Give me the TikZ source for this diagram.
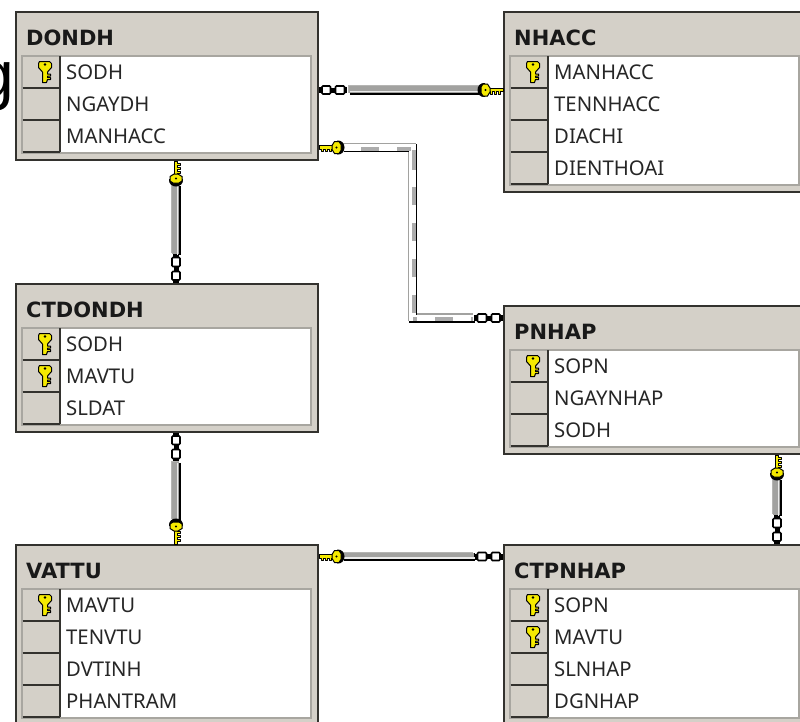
\documentclass[tikz,border=0pt]{standalone}
\usepackage{fontspec}
\setmainfont{Noto Sans}
\newfontfamily\bigfont{Liberation Sans}
\newfontfamily\titlefont{DejaVu Sans}
\usetikzlibrary{calc}
\definecolor{panel}{HTML}{D4D0C8}
\definecolor{edge}{HTML}{33322E}
\definecolor{keyyellow}{HTML}{F5EA00}
\definecolor{gridgray}{HTML}{A8A6A0}
\definecolor{bandgray}{HTML}{A2A2A0}
\tikzset{
  x=1pt,y=-1pt,
  tablebox/.style={draw=edge,line width=2pt,fill=panel,minimum width=302pt,inner sep=0pt,outer sep=0pt,anchor=north west},
  titletext/.style={anchor=west,inner sep=0pt,font=\titlefont\fontsize{21}{24}\selectfont\bfseries,text=black!90},
  rowtext/.style={anchor=west,inner sep=0pt,font=\fontsize{20.3}{24}\selectfont,text=black!85},
  keycell/.style={fill=panel},
  keyedge/.style={draw=edge,line width=1.6pt},
  dashmark/.style={draw=gray!65,line width=4pt},
  keyicon/.pic={
    \fill[black] (18,-7) .. controls (28,-8) and (28,8) .. (18,7) -- cycle;
    \draw[black,line width=.9pt,fill=keyyellow,line join=round]
      (0,-1.8) -- (14,-1.8) -- (14,1.8) -- (12.5,1.8) -- (12.5,4) -- (10.5,4) -- (10.5,1.8) -- (8.5,1.8)
      -- (8.5,4) -- (6.5,4) -- (6.5,1.8) -- (4.5,1.8) -- (4.5,4) -- (2.5,4) -- (2.5,1.8) -- (0,1.8) -- cycle;
    \draw[black,line width=1pt,fill=keyyellow] (15.5,-6) -- (20,-6) -- (22,-3) -- (22,3) -- (20,6) -- (15.5,6) -- (13,2) -- (13,-2) -- cycle;
    \fill[black] (17.5,0) circle (1.2);
  },
  rowkey/.pic={
    \draw[black,line width=1pt,fill=keyyellow,line join=round]
      (-5,0) -- (5,0) -- (7,2) -- (7,6) -- (3,10.5) -- (3,12.5) -- (6,12.5) -- (6,14.5) -- (3,14.5) -- (3,16) -- (6,16) -- (6,18) -- (3,18)
      -- (2,21) -- (-2,21) -- (-2,10.5) -- (-6,6) -- (-6,2) -- cycle;
    \fill[black] (.5,3) circle (1.3);
  },
  chainicon/.pic={
    \fill[black] (0,-3) rectangle (3,3);
    \draw[black,line width=1.6pt,fill=white,rounded corners=1pt] (3,-4) rectangle (11.5,4);
    \fill[black] (11.5,-2.5) rectangle (16.5,2.5);
    \draw[black,line width=1.6pt,fill=white,rounded corners=1pt] (16.5,-4) rectangle (25.5,4);
    \fill[black] (25.5,-3) rectangle (28,3);
  },
  fromeast/.style={},
  fromwest/.style={xscale=-1},
  fromsouth/.style={cm={0,-1,-1,0,(0,0)}},
  fromnorth/.style={rotate=90},
  shiftul/.style={transform canvas={xshift=-.9pt,yshift=.9pt}},
  shiftdr/.style={transform canvas={xshift=.9pt,yshift=-.9pt}},
  shiftcore/.style={transform canvas={xshift=-.4pt,yshift=.4pt}},
  shiftglint/.style={transform canvas={xshift=1.4pt,yshift=-1.4pt}}
}
% name, x, y, height, title, rows (k or n / text)
\newcommand{\erdtable}[6]{%
  \begin{scope}[shift={(#2,#3)}]
    \node[tablebox,minimum height=#4pt] (#1) at (0,0) {};
    \node[titletext] (#1-title) at (10,26) {#5};
    \foreach \kk/\tt [count=\ii] in {#6}{
      \xdef\nrows{\ii}
    }
    \pgfmathsetmacro{\gridbot}{44+32*\nrows+1}
    \fill[white] (6,44) rectangle (295,\gridbot);
    \draw[gridgray,line width=1.2pt] (6,44) rectangle (295,\gridbot);
    \foreach \kk/\tt [count=\ii] in {#6}{
      \pgfmathsetmacro{\ytop}{44+32*(\ii-1)}
      \pgfmathsetmacro{\ybot}{44+32*\ii}
      \pgfmathsetmacro{\ymid}{\ytop+16}
      \fill[keycell] (6.5,\ytop+.5) rectangle (44,\ybot);
      \draw[keyedge] (6.5,\ybot) -- (44,\ybot);
      \draw[keyedge] (44,\ytop) -- (44,\ybot);
      \node[rowtext] (#1-row\ii) at (50,\ymid) {\tt};
      \if k\kk
        \path (28.5,\ytop+5.5) pic {rowkey};
      \fi
    }
  \end{scope}
}
% path, start trim, end trim
\newcommand{\solidlink}[3]{%
  \draw[shiftul,bandgray!80,line width=8pt,shorten <=#2pt,shorten >=#3pt] #1;
  \draw[shiftdr,black,line width=8pt,shorten <=#2pt,shorten >=#3pt] #1;
  \draw[shiftcore,bandgray,line width=6.4pt,shorten <=#2pt,shorten >=#3pt] #1;
  \draw[shiftglint,white!92!black,line width=1.2pt,shorten <=#2pt,shorten >=#3pt] #1;
}
\newcommand{\dashedlink}[3]{%
  \draw[shiftul,bandgray,line width=8pt,shorten <=#2pt,shorten >=#3pt] #1;
  \draw[shiftdr,black,line width=8pt,shorten <=#2pt,shorten >=#3pt] #1;
  \draw[white,line width=6.2pt,shorten <=#2pt,shorten >=#3pt] #1;
}
\begin{document}
\begin{tikzpicture}
\useasboundingbox (0,0) rectangle (800,721);
\clip (0,0) rectangle (800,721);
\fill[white] (0,0) rectangle (800,721);
\node[anchor=base east,inner sep=0pt,font=\fontsize{66}{66}\selectfont\bigfont] (cutoff) at (14,97) {g};

\erdtable{DONDH}{16}{12}{148}{DONDH}{k/SODH,n/NGAYDH,n/MANHACC}
\erdtable{NHACC}{504}{12}{180}{NHACC}{k/MANHACC,n/TENNHACC,n/DIACHI,n/DIENTHOAI}
\erdtable{CTDONDH}{16}{284}{148}{CTDONDH}{k/SODH,k/MAVTU,n/SLDAT}
\erdtable{PNHAP}{504}{306}{148}{PNHAP}{k/SOPN,n/NGAYNHAP,n/SODH}
\erdtable{VATTU}{16}{545}{180}{VATTU}{k/MAVTU,n/TENVTU,n/DVTINH,n/PHANTRAM}
\erdtable{CTPNHAP}{504}{545}{180}{CTPNHAP}{k/SOPN,k/MAVTU,n/SLNHAP,n/DGNHAP}

% DONDH -- NHACC
\solidlink{([yshift=-78pt]DONDH.north east) -- ([yshift=-78pt]NHACC.north west)}{31}{24}
\path ([yshift=-78pt,xshift=1pt]DONDH.north east) pic[fromeast] {chainicon};
\path ([yshift=-78pt,xshift=-1pt]NHACC.north west) pic[fromwest] {keyicon};

% DONDH -- PNHAP
\coordinate (bendA) at (412.5,147.5);
\coordinate (bendB) at (412.5,318);
\dashedlink{([yshift=-135.5pt]DONDH.north east) -- (bendA) -- (bendB) -- ([yshift=-12pt]PNHAP.north west)}{25}{30}
\foreach \a/\b in {361/379,397/411}{\draw[dashmark] (\a,148.5) -- (\b,148.5);}
\foreach \a/\b in {150/170,187/205,223/241,259/277,295/313}{\draw[dashmark] (413.5,\a) -- (413.5,\b);}
\foreach \a/\b in {413/417,435/453,471/473}{\draw[dashmark] (\a,319) -- (\b,319);}
\path ([yshift=-135.5pt,xshift=1pt]DONDH.north east) pic[fromeast] {keyicon};
\path ([yshift=-12pt,xshift=-1pt]PNHAP.north west) pic[fromwest] {chainicon};

% DONDH -- CTDONDH
\solidlink{([xshift=160pt]DONDH.south west) -- ([xshift=160pt]CTDONDH.north west)}{25}{30}
\path ([xshift=160pt,yshift=-1pt]DONDH.south west) pic[fromsouth] {keyicon};
\path ([xshift=160pt,yshift=1pt]CTDONDH.north west) pic[fromnorth] {chainicon};

% CTDONDH -- VATTU
\solidlink{([xshift=160pt]CTDONDH.south west) -- ([xshift=160pt]VATTU.north west)}{30}{25}
\path ([xshift=160pt,yshift=-1pt]CTDONDH.south west) pic[fromsouth] {chainicon};
\path ([xshift=160pt,yshift=1pt]VATTU.north west) pic[fromnorth] {keyicon};

% PNHAP -- CTPNHAP
\solidlink{([xshift=273pt]PNHAP.south west) -- ([xshift=273pt]CTPNHAP.north west)}{25}{30}
\path ([xshift=273pt,yshift=-1pt]PNHAP.south west) pic[fromsouth] {keyicon};
\path ([xshift=273pt,yshift=1pt]CTPNHAP.north west) pic[fromnorth] {chainicon};

% VATTU -- CTPNHAP
\solidlink{([yshift=-11.5pt]VATTU.north east) -- ([yshift=-11.5pt]CTPNHAP.north west)}{25}{30}
\path ([yshift=-11.5pt,xshift=1pt]VATTU.north east) pic[fromeast] {keyicon};
\path ([yshift=-11.5pt,xshift=-1pt]CTPNHAP.north west) pic[fromwest] {chainicon};
\end{tikzpicture}
\end{document}
